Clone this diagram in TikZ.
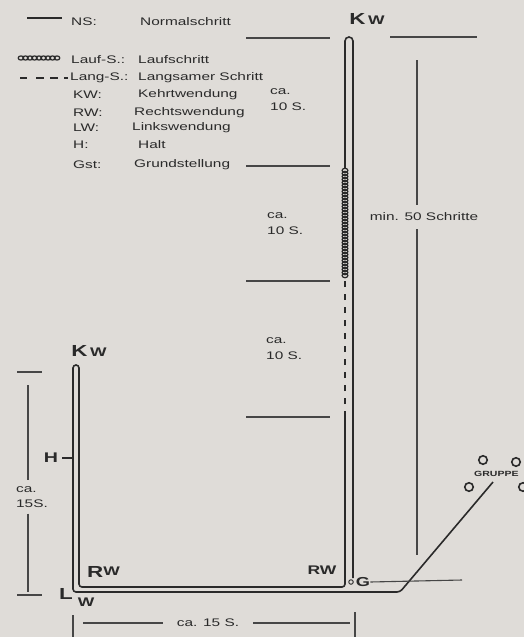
\documentclass[tikz,border=0pt]{standalone}
\usepackage{fontspec}
\setmainfont{Liberation Sans}[FakeStretch=1.4]
\usetikzlibrary{positioning}
\definecolor{paper}{RGB}{223,220,216}
\definecolor{ink}{RGB}{42,42,42}
\definecolor{inkl}{RGB}{70,70,70}
\tikzset{
    lbl/.style={
        font=\fontsize{11}{16}\selectfont,
        text=ink,
        inner sep=1pt,
        align=left
    },
    biglbl/.style={
        font=\fontsize{16}{17}\selectfont\bfseries,
        text=ink,
        inner sep=0pt
    },
    walk/.style={draw=ink, line width=1.6pt},
    lauf/.style={draw=ink, line width=1.2pt},
    lang/.style={walk, dash pattern=on 6pt off 7pt},
    meas/.style={draw=inkl, line width=1.1pt}
}
\newcommand{\smw}[1]{{\fontsize{12.5}{13}\selectfont #1}}

\begin{document}
\begin{tikzpicture}[x=1pt, y=-1pt]
        \fill[paper] (0,0) rectangle (524,637);
        \useasboundingbox (0,0) rectangle (524,637);
        % Legende
        \draw[walk] (27,18) -- (62,18);
        \foreach \x in {21,25.5,...,58} \draw[lauf] (\x,58) ellipse (2.8 and 2.1);
        \draw[walk, line width=2.2pt] (20,78) -- (27,78);
        \draw[walk, dash pattern=on 8pt off 6pt] (36,78) -- (68,78);
        \node[lbl, anchor=west] (ns) at (70,22) {NS:};
        \node[lbl, anchor=west] (nsTxt) at (139,22) {Normalschritt};
        \node[lbl, anchor=west] (lauf) at (70,60) {Lauf-S.:};
        \node[lbl, anchor=west] (laufTxt) at (137,60) {Laufschritt};
        \node[lbl, anchor=west] (lang) at (69,78) {Lang-S.:};
        \node[lbl, anchor=west] (langTxt) at (137,78) {Langsamer Schritt};
        \node[lbl, anchor=west] (kw) at (72,95) {KW:};
        \node[lbl, anchor=west] (kwTxt) at (137,95) {Kehrtwendung};
        \node[lbl, anchor=west] (rw) at (72,113) {RW:};
        \node[lbl, anchor=west] (rwTxt) at (133,113) {Rechtswendung};
        \node[lbl, anchor=west] (lw) at (72,128) {LW:};
        \node[lbl, anchor=west] (lwTxt) at (131,128) {Linkswendung};
        \node[lbl, anchor=west] (h) at (72,145) {H:};
        \node[lbl, anchor=west] (hTxt) at (137,145) {Halt};
        \node[lbl, anchor=west] (gst) at (72,165) {Gst:};
        \node[lbl, anchor=west] (gstTxt) at (133,165) {Grundstellung};
        % Abschnitte am langen Schenkel
        \foreach \y in {38,166,281,417} \draw[meas] (246,\y) -- (330,\y);
        \node[lbl, anchor=west] (ca1) at (269,100) {ca.\\10 S.};
        \node[lbl, anchor=west] (ca2) at (266,224) {ca.\\10 S.};
        \node[lbl, anchor=west] (ca3) at (265,349) {ca.\\10 S.};
        % Laufweg
        \coordinate (grpEnd) at (493,482);
        \coordinate (knee) at (400,592);
        \coordinate (lcOB) at (73,592);
        \coordinate (lcIB) at (79,587);
        \coordinate (rcB) at (345,587);
        \coordinate (rc1) at (345,417);
        \coordinate (rc2) at (345,280);
        \coordinate (rc3) at (345,168);
        \coordinate (rrB) at (353,578);
        \draw[walk, rounded corners=3pt] (grpEnd) -- (knee) -- (lcOB) -- (73,365) -- (79,365) -- (lcIB) -- (rcB) -- (rc1);
        \draw[lang] (rc1) -- (rc2);
        \foreach \y in {170.5,173.5,...,277} \draw[lauf] (345,\y) ellipse (2.9 and 2.2);
        \draw[walk, rounded corners=4pt] (rc3) -- (345,37) -- (353,37) -- (rrB);
        % Beschriftung der Wendungen
        \node[biglbl] (kwTop) at (367,19) {K\,\smw{W}};
        \node[biglbl] (kwLeft) at (89,351) {K\,\smw{W}};
        \node[biglbl, anchor=west] (rwLeft) at (87,572) {R\raisebox{2.5pt}{\smw{W}}};
        \node[biglbl, anchor=west] (lwLeft) at (59,597) {L\hspace{5pt}\raisebox{-7pt}{\smw{W}}};
        \node[biglbl, font=\fontsize{12.5}{13}\selectfont\bfseries] (rwRight) at (322,570) {RW};
        \node[biglbl, font=\fontsize{14}{15}\selectfont\bfseries] (halt) at (51,458) {H};
        \coordinate (haltMark) at (72,458);
        \draw[walk, line width=1.1pt] (halt.east) ++(4,0) -- (haltMark);
        % Grundstellung
        \node[draw=ink, circle, line width=0.9pt, inner sep=1.6pt] (gDot) at (351,582) {};
        \node[biglbl, font=\fontsize{13}{14}\selectfont\bfseries, right=2pt of gDot] (gLbl) {G};
        \coordinate (gEnd) at (462,580);
        \draw[meas] (gLbl.east) -- (gEnd);
        % Gruppe
        \foreach \p [count=\i] in {(483,460),(516,462),(469,487),(523,487)}
            \node[draw=ink, circle, line width=1.6pt, inner sep=3pt] (grp\i) at \p {};
        \node[font=\fontsize{7.5}{8}\selectfont\bfseries, text=ink, inner sep=0pt, anchor=west] (grpTxt) at (474,474) {GRUPPE};
        % Masse rechts
        \draw[meas] (390,37) -- (477,37);
        \coordinate (dimTop) at (417,60);
        \coordinate (dimBot) at (417,555);
        \node[lbl, inner ysep=8pt] (min50) at (424,217) {min. 50 Schritte};
        \draw[meas] (dimTop) -- (dimTop |- min50.north);
        \draw[meas] (dimBot |- min50.south) -- (dimBot);
        % Masse links
        \draw[meas] (17,372) -- (42,372);
        \draw[meas] (17,595) -- (42,595);
        \coordinate (lTop) at (28,385);
        \coordinate (lBot) at (28,592);
        \node[lbl, inner ysep=6pt, font=\fontsize{11}{15}\selectfont] (ca15l) at (32,497) {ca.\\15S.};
        \draw[meas] (lTop) -- (lTop |- ca15l.north);
        \draw[meas] (lBot |- ca15l.south) -- (lBot);
        % Masse unten
        \draw[meas] (73,615) -- (73,637);
        \draw[meas] (355,612) -- (355,637);
        \coordinate (bLeft) at (83,623);
        \coordinate (bRight) at (350,623);
        \node[lbl, inner xsep=14pt] (ca15b) at (208,623) {ca. 15 S.};
        \draw[meas] (bLeft) -- (ca15b);
        \draw[meas] (ca15b) -- (bRight);
    \end{tikzpicture}
\end{document}
